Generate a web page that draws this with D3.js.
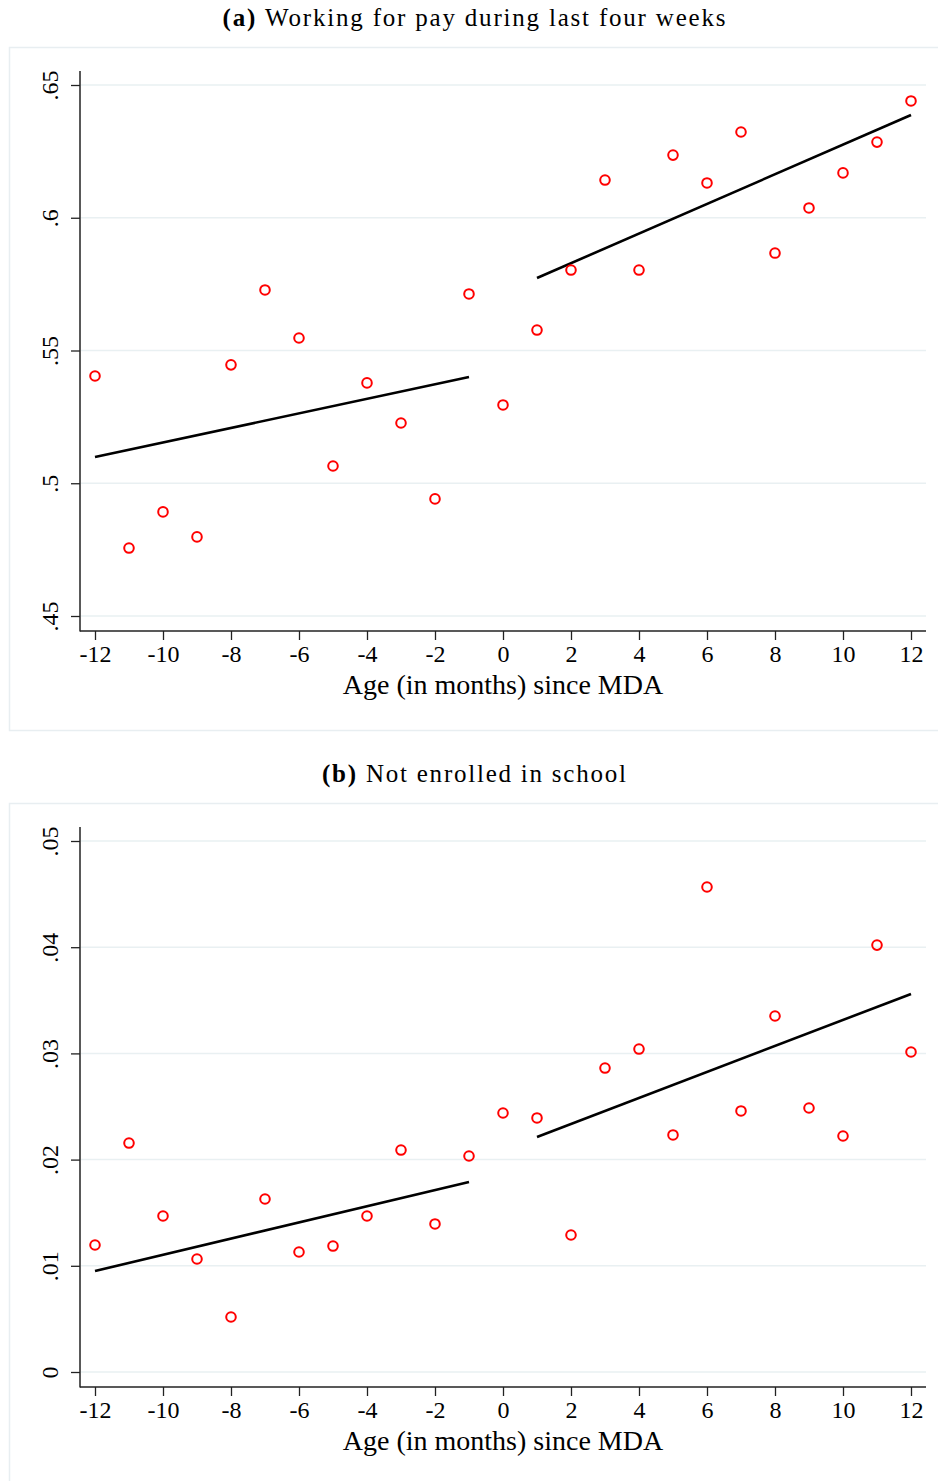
<!DOCTYPE html>
<html>
<head>
<meta charset="utf-8">
<script src="https://cdn.jsdelivr.net/npm/d3@7"></script>
<style>
  body { margin: 0; background: #fff; }
  svg text { font-family: "Liberation Serif", "DejaVu Serif", serif; fill: #000; }
</style>
</head>
<body>
<svg id="chart" width="938" height="1481"></svg>
<script>
// months relative to MDA
var months = d3.range(-12, 13);

// (a) working for pay during last four weeks
var payValues = [0.5404, 0.4756, 0.4892, 0.4798, 0.5446, 0.5728, 0.5547, 0.5065, 0.5378, 0.5227, 0.4941, 0.5713,
  0.5295, 0.5577, 0.5803, 0.6142, 0.5803, 0.6236, 0.6131, 0.6323, 0.5867, 0.6037, 0.6169, 0.6285, 0.6440];
var payFitLeft = [[-12, 0.5099], [-1, 0.5400]];
var payFitRight = [[1, 0.5773], [12, 0.6387]];
var payTicks = [0.45, 0.5, 0.55, 0.6, 0.65];
var payTickLabels = [".45", ".5", ".55", ".6", ".65"];

// (b) not enrolled in school
var schoolValues = [0.01196, 0.02156, 0.01469, 0.01064, 0.00518, 0.01629, 0.0113, 0.01186, 0.01469, 0.0209, 0.01394, 0.02034,
  0.02439, 0.02392, 0.0129, 0.02862, 0.03041, 0.02232, 0.04567, 0.02458, 0.03352, 0.02486, 0.02222, 0.0402, 0.03013];
var schoolFitLeft = [[-12, 0.00951], [-1, 0.01789]];
var schoolFitRight = [[1, 0.02213], [12, 0.0356]];
var schoolTicks = [0, 0.01, 0.02, 0.03, 0.04, 0.05];
var schoolTickLabels = ["0", ".01", ".02", ".03", ".04", ".05"];

var xTicks = d3.range(-12, 13, 2);
var xTitle = "Age (in months) since MDA";

var svg = d3.select("#chart");

function drawPanel(cfg) {
  var g = svg.append("g").attr("transform", "translate(0," + cfg.top + ")");

  // title (spaced out to the width of the LaTeX caption)
  var t = g.append("text")
    .attr("x", 474).attr("y", 26)
    .attr("text-anchor", "middle")
    .attr("textLength", cfg.titleWidth)
    .attr("lengthAdjust", "spacing")
    .style("font-size", "25px");
  t.append("tspan").style("font-weight", "bold").text("(" + cfg.letter + ")");
  t.append("tspan").text("\u00a0" + cfg.title);

  // panel frame
  g.append("rect")
    .attr("x", 9.5).attr("y", cfg.boxTop + 0.5)
    .attr("width", 940).attr("height", cfg.boxHeight)
    .attr("fill", "none").attr("stroke", "#e8eef1").attr("stroke-width", 1.5);

  var x = d3.scaleLinear().domain([-12, 12]).range([95, 911]);
  var y = d3.scaleLinear().domain(cfg.domain).range(cfg.yRange);

  // grid
  g.append("g").selectAll("line").data(cfg.ticks).join("line")
    .attr("x1", 81).attr("x2", 926)
    .attr("y1", function (d) { return y(d); }).attr("y2", function (d) { return y(d); })
    .attr("stroke", "#e9f0f2").attr("stroke-width", 1.5);

  // y axis
  var yAxis = g.append("g").attr("transform", "translate(80,0)")
    .call(d3.axisLeft(y).tickValues(cfg.ticks).tickSize(9)
      .tickFormat(function (d, i) { return cfg.tickLabels[i]; }));
  yAxis.select(".domain").remove();
  yAxis.selectAll(".tick line").attr("stroke", "#222").attr("stroke-width", 1.3);
  yAxis.selectAll(".tick text")
    .attr("x", null).attr("dy", null)
    .attr("transform", "translate(-30,0) rotate(-90)")
    .attr("text-anchor", "middle")
    .attr("dy", "0.35em")
    .style("font-size", "24px").style("font-family", "Liberation Serif");
  g.append("line")
    .attr("x1", 80).attr("x2", 80)
    .attr("y1", cfg.axisTop).attr("y2", cfg.axisBottom + 0.5)
    .attr("stroke", "#222").attr("stroke-width", 1.5);

  // x axis
  var xAxis = g.append("g").attr("transform", "translate(0," + cfg.axisBottom + ")")
    .call(d3.axisBottom(x).tickValues(xTicks).tickSize(9).tickFormat(d3.format("d")));
  xAxis.select(".domain").remove();
  xAxis.selectAll(".tick line").attr("stroke", "#222").attr("stroke-width", 1.3);
  xAxis.selectAll(".tick text")
    .attr("y", 14).attr("dy", "0.71em")
    .text(function (d) { return d < 0 ? "-" + Math.abs(d) : d; })
    .style("font-size", "24px").style("font-family", "Liberation Serif");
  g.append("line")
    .attr("x1", 80).attr("x2", 926)
    .attr("y1", cfg.axisBottom).attr("y2", cfg.axisBottom)
    .attr("stroke", "#222").attr("stroke-width", 1.5);

  g.append("text")
    .attr("x", 503).attr("y", cfg.axisBottom + 63)
    .attr("text-anchor", "middle")
    .style("font-size", "28px")
    .text(xTitle);

  // fit lines
  var line = d3.line().x(function (d) { return x(d[0]); }).y(function (d) { return y(d[1]); });
  [cfg.fitLeft, cfg.fitRight].forEach(function (seg) {
    g.append("path").attr("d", line(seg))
      .attr("fill", "none").attr("stroke", "#000").attr("stroke-width", 2.6);
  });

  // points
  g.append("g").selectAll("circle").data(months).join("circle")
    .attr("cx", function (d) { return x(d); })
    .attr("cy", function (d, i) { return y(cfg.values[i]); })
    .attr("r", 4.8)
    .attr("fill", "none").attr("stroke", "#ff0000").attr("stroke-width", 2);
}

drawPanel({
  top: 0, letter: "a", title: "Working for pay during last four weeks", titleWidth: 503,
  boxTop: 47, boxHeight: 683,
  domain: [0.45, 0.65], yRange: [616, 85],
  axisTop: 71, axisBottom: 631,
  ticks: payTicks, tickLabels: payTickLabels,
  values: payValues, fitLeft: payFitLeft, fitRight: payFitRight
});

drawPanel({
  top: 756, letter: "b", title: "Not enrolled in school", titleWidth: 304,
  boxTop: 47, boxHeight: 700,
  domain: [0, 0.05], yRange: [616, 85],
  axisTop: 71, axisBottom: 631,
  ticks: schoolTicks, tickLabels: schoolTickLabels,
  values: schoolValues, fitLeft: schoolFitLeft, fitRight: schoolFitRight
});
</script>
</body>
</html>
